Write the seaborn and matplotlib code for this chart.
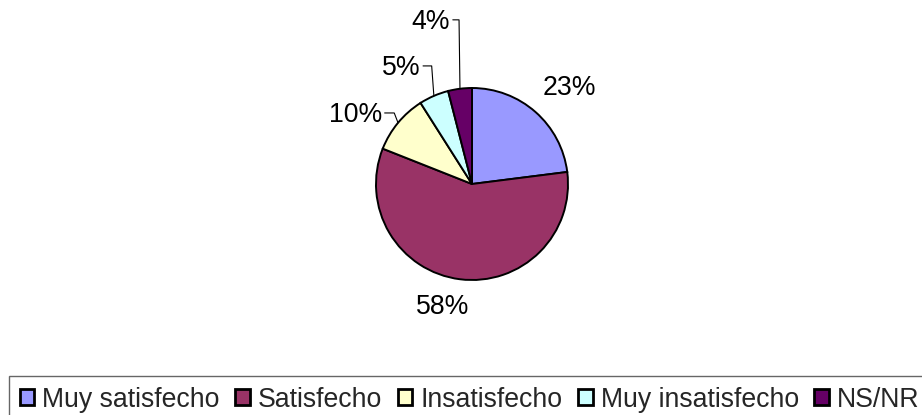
import matplotlib
matplotlib.use("Agg")
import matplotlib.pyplot as plt
import seaborn as sns
import numpy as np

# --- datos ---
categorias = ['Muy satisfecho', 'Satisfecho', 'Insatisfecho', 'Muy insatisfecho', 'NS/NR']
porcentajes = [23, 58, 10, 5, 4]
etiquetas = ['23%', '58%', '10%', '5%', '4%']
colores = ['#9999FF', '#993366', '#FFFFCC', '#CCFFFF', '#660066']

# posiciones de las etiquetas (en radios del pastel) y alineacion
pos_etiquetas = [(1.01, 1.00), (-0.31, -1.28), (-0.94, 0.72), (-0.54, 1.21), (-0.23, 1.69)]
alin_etiquetas = ['center', 'center', 'right', 'right', 'right']
con_guia = [False, False, True, True, True]
codo = [0, 0, 0.13, 0.12, 0.095]

sns.set_style("white")
plt.rcParams['font.family'] = ['Liberation Sans', 'DejaVu Sans']
FS = 19.2

fig = plt.figure(figsize=(9.22, 4.15), dpi=100)
W, H = 922, 415
cx, cy, r = 472, 184, 96
ax = fig.add_axes([(cx - r) / W, (H - cy - r) / H, 2 * r / W, 2 * r / H])

wedges, _ = ax.pie(porcentajes, colors=colores, startangle=90, counterclock=False,
                   wedgeprops=dict(edgecolor='black', linewidth=1.4))
ax.set_xlim(-1, 1)
ax.set_ylim(-1, 1)
ax.set_aspect('equal', adjustable='box')
ax.axis('off')

# etiquetas de porcentaje y lineas guia
for w, txt, (x, y), ha, guia, c in zip(wedges, etiquetas, pos_etiquetas, alin_etiquetas, con_guia, codo):
    ax.text(x, y, txt, ha=ha, va='center', fontsize=FS, color='black', clip_on=False)
    if guia:
        ang = np.deg2rad((w.theta1 + w.theta2) / 2)
        ex, ey = np.cos(ang), np.sin(ang)
        ax.plot([x + 0.03, x + c, ex], [y + 0.02, y + 0.02, ey], color='black',
                linewidth=0.8, clip_on=False)

leg = fig.legend(wedges, categorias, loc='upper left',
                 bbox_to_anchor=(9 / W, 1 - 376 / H), bbox_transform=fig.transFigure,
                 ncol=5, fontsize=FS, frameon=True, fancybox=False, shadow=False,
                 borderpad=0.4, borderaxespad=0, handlelength=0.55, handleheight=0.55,
                 handletextpad=0.3, columnspacing=0.58)
leg.get_frame().set_edgecolor('#404040')
leg.get_frame().set_linewidth(1.0)
for h in leg.legend_handles:
    h.set_linewidth(2.0)

plt.savefig('out.png', dpi=100)
